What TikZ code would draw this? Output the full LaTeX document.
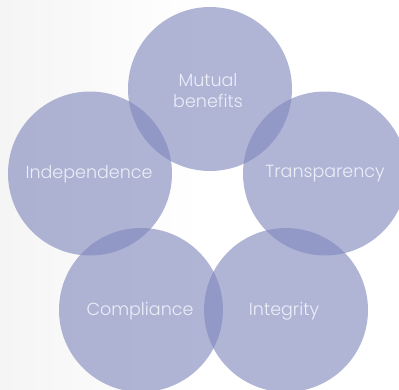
\documentclass[tikz,border=0pt]{standalone}
\usepackage{fontspec}
\setmainfont{Poppins Light}
\definecolor{circ}{RGB}{128,136,189}
\definecolor{txt}{RGB}{236,238,248}
\begin{document}
\begin{tikzpicture}[x=1pt,y=-1pt,
  bubble/.style={circle,fill=circ,fill opacity=0.62,minimum size=164pt,inner sep=0pt},
  lbl/.style={text=txt,font=\fontsize{17.5}{21}\selectfont,align=center}]
\useasboundingbox (0,0) rectangle (399,389);
\shade[left color=black!4,right color=white,shading angle=90] (0,0) rectangle (200,389);
\node[bubble] (mb) at (210,89) {};
\node[bubble] (ind) at (90,173.5) {};
\node[bubble] (tr) at (325,173.5) {};
\node[bubble] (co) at (141,310) {};
\node[bubble] (in) at (286,310) {};
\node[lbl] (tmb) at (208,91) {Mutual\\benefits};
\node[lbl] (tind) at (89,174) {Independence};
\node[lbl] (ttr) at (325,174) {Transparency};
\node[lbl] (tco) at (140,311) {Compliance};
\node[lbl] (tin) at (284,311) {Integrity};
\end{tikzpicture}
\end{document}
